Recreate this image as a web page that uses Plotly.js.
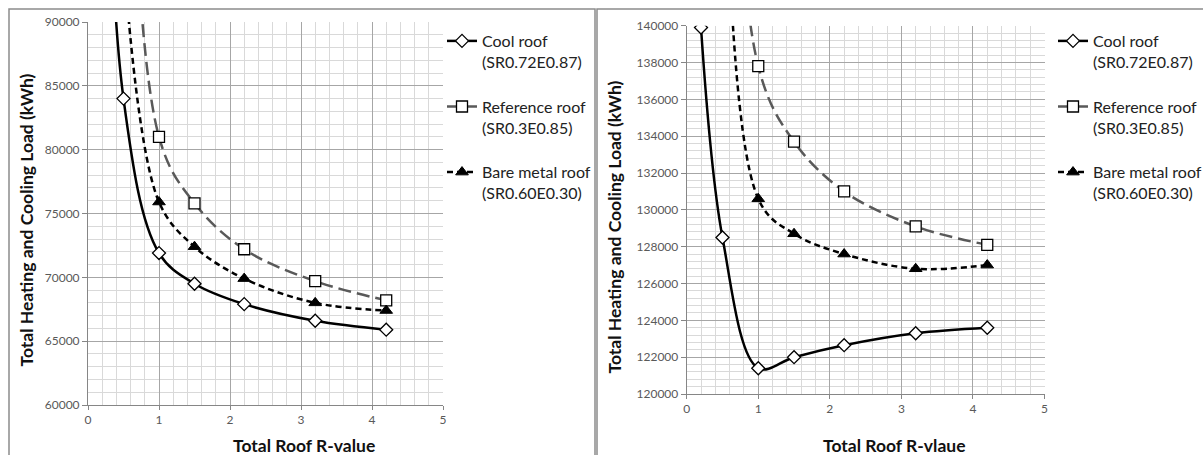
<!DOCTYPE html>
<html>
<head>
<meta charset="utf-8">
<script src="https://cdn.plot.ly/plotly-3.0.1.min.js"></script>
<style>html,body{margin:0;padding:0;background:#fff;}#chart{width:1203px;height:455px;}</style>
</head>
<body>
<div id="chart"></div>
<script>
// ---- Data ----
const seriesNames = ["Cool roof<br>(SR0.72E0.87)", "Reference roof<br>(SR0.3E0.85)", "Bare metal roof<br>(SR0.60E0.30)"];

// Left panel (first points lie above the visible range; estimated from the curve slope)
const leftCoolX = [0.2, 0.5, 1, 1.5, 2.2, 3.2, 4.2];
const leftCoolY = [125000, 84000, 71900, 69500, 67900, 66600, 65900];
const leftOtherX = [0.5, 1, 1.5, 2.2, 3.2, 4.2];
const leftRefY = [130000, 81000, 75800, 72200, 69700, 68200];
const leftBareY = [95000, 75900, 72400, 69900, 68000, 67400];

// Right panel
const rightCoolX = [0.2, 0.5, 1, 1.5, 2.2, 3.2, 4.2];
const rightCoolY = [139900, 128500, 121400, 122000, 122650, 123300, 123600];
const rightOtherX = [0.5, 1, 1.5, 2.2, 3.2, 4.2];
const rightRefY = [170000, 137800, 133700, 131000, 129100, 128100];
const rightBareY = [165000, 130600, 128700, 127600, 126800, 127000];

const xTitleLeft = "Total Roof R-value";
const xTitleRight = "Total Roof R-vlaue";
const yTitle = "Total Heating and Cooling Load (kWh)";

// ---- Styles ----
const W = 1203, H = 455;
const px = v => v / W;
const py = v => 1 - v / H;
const FONT = "Lato, 'Open Sans', sans-serif";

const styles = [
  {line: {color: "#000", width: 2.5, dash: "solid", shape: "spline", smoothing: 1},
   marker: {symbol: "diamond", size: 10, color: "#fff", line: {color: "#000", width: 1.3}}},
  {line: {color: "#595959", width: 2.5, dash: "13px,6px", shape: "spline", smoothing: 1},
   marker: {symbol: "square", size: 11, color: "#fff", line: {color: "#000", width: 1.3}}},
  {line: {color: "#000", width: 2.5, dash: "6px,4px", shape: "spline", smoothing: 1},
   marker: {symbol: "triangle-up", size: 11, color: "#000", line: {color: "#000", width: 1}}}
];

function tr(i, x, y, xa, ya, leg) {
  return {
    type: "scatter", mode: "lines+markers", x: x, y: y,
    xaxis: xa, yaxis: ya, name: seriesNames[i], legend: leg,
    legendgroup: leg + "g" + i,
    line: styles[i].line, marker: styles[i].marker, cliponaxis: true
  };
}

const data = [
  tr(0, leftCoolX, leftCoolY, "x", "y", "legend"),
  tr(1, leftOtherX, leftRefY, "x", "y", "legend"),
  tr(2, leftOtherX, leftBareY, "x", "y", "legend"),
  tr(0, rightCoolX, rightCoolY, "x2", "y2", "legend2"),
  tr(1, rightOtherX, rightRefY, "x2", "y2", "legend2"),
  tr(2, rightOtherX, rightBareY, "x2", "y2", "legend2")
];

const tickFont = {family: FONT, size: 12, color: "#595959"};
function xax(domain) {
  return {
    domain: domain, range: [0, 5], dtick: 1, tick0: 0, tickformat: "d",
    showgrid: true, gridcolor: "#a6a6a6", gridwidth: 1,
    minor: {dtick: 0.2, showgrid: true, gridcolor: "#d9d9d9", gridwidth: 1},
    showline: true, linecolor: "#868686", linewidth: 1,
    ticks: "outside", ticklen: 4, tickcolor: "#868686",
    zeroline: false, tickfont: tickFont, fixedrange: true, automargin: false
  };
}
function yax(domain, range, dtick, minorD) {
  return {
    domain: domain, range: range, dtick: dtick, tickformat: "d",
    showgrid: true, gridcolor: "#a6a6a6", gridwidth: 1,
    minor: {dtick: minorD, showgrid: true, gridcolor: "#d9d9d9", gridwidth: 1},
    showline: true, linecolor: "#868686", linewidth: 1,
    ticks: "outside", ticklen: 5, tickcolor: "#868686",
    zeroline: false, tickfont: tickFont, fixedrange: true, automargin: false
  };
}

const legFont = {family: FONT, size: 16, color: "#222"};
const titleFont = {family: FONT, size: 17.5, color: "#111", weight: "bold"};

const layout = {
  width: W, height: H,
  margin: {l: 0, r: 0, t: 0, b: 0, pad: 0, autoexpand: false},
  paper_bgcolor: "#fff", plot_bgcolor: "#fff",
  xaxis: xax([px(88), px(443)]),
  yaxis: Object.assign(yax([py(405), py(22)], [60000, 90000], 5000, 1000), {anchor: "x"}),
  xaxis2: Object.assign(xax([px(686.7), px(1044.5)]), {anchor: "y2"}),
  yaxis2: Object.assign(yax([py(394), py(25.7)], [120000, 140000], 2000, 400), {anchor: "x2"}),
  legend: {x: px(442), xanchor: "left", y: py(24), yanchor: "top", font: legFont,
           bgcolor: "rgba(0,0,0,0)", tracegroupgap: 21, valign: "top", itemwidth: 30},
  legend2: {x: px(1053), xanchor: "left", y: py(24), yanchor: "top", font: legFont,
            bgcolor: "rgba(0,0,0,0)", tracegroupgap: 21, valign: "top", itemwidth: 30},
  showlegend: true,
  shapes: [
    {type: "rect", xref: "paper", yref: "paper", x0: px(9), x1: px(595), y0: -0.2, y1: py(9),
     line: {color: "#8c8c8c", width: 1.5}, fillcolor: "rgba(0,0,0,0)", layer: "below"},
    {type: "rect", xref: "paper", yref: "paper", x0: px(597), x1: 1.2, y0: -0.2, y1: py(9),
     line: {color: "#8c8c8c", width: 1.5}, fillcolor: "rgba(0,0,0,0)", layer: "below"}
  ],
  annotations: [
    {text: yTitle, xref: "paper", yref: "paper", x: px(25.5), y: py(220), textangle: -90,
     showarrow: false, font: titleFont, xanchor: "center", yanchor: "middle"},
    {text: yTitle, xref: "paper", yref: "paper", x: px(613.5), y: py(227), textangle: -90,
     showarrow: false, font: titleFont, xanchor: "center", yanchor: "middle"},
    {text: xTitleLeft, xref: "paper", yref: "paper", x: px(304), y: py(445),
     showarrow: false, font: titleFont, xanchor: "center", yanchor: "middle"},
    {text: xTitleRight, xref: "paper", yref: "paper", x: px(894), y: py(445),
     showarrow: false, font: titleFont, xanchor: "center", yanchor: "middle"}
  ]
};

Plotly.newPlot("chart", data, layout, {displayModeBar: false, staticPlot: true});
</script>
</body>
</html>
